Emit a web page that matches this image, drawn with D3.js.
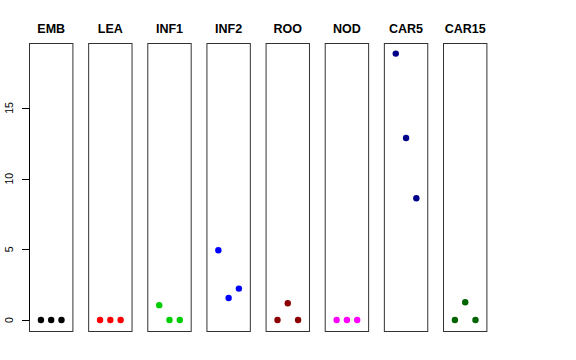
<!DOCTYPE html>
<html>
<head>
<meta charset="utf-8">
<script src="https://cdn.jsdelivr.net/npm/d3@7"></script>
<style>
  body { margin: 0; background: #fff; }
  text { font-family: "Liberation Sans", Arial, sans-serif; }
</style>
</head>
<body>
<div id="chart"></div>
<script>
// tissues, one panel each
let tissues = ["EMB", "LEA", "INF1", "INF2", "ROO", "NOD", "CAR5", "CAR15"];
let colours = ["#000000", "#ff0000", "#00cd00", "#0000ff", "#8b0000", "#ff00ff", "#00008b", "#006400"];
// three replicate values per tissue
let rep1 = [0, 0, 1.05, 4.93, 0, 0, 18.85, 0];
let rep2 = [0, 0, 0, 1.56, 1.18, 0, 12.88, 1.25];
let rep3 = [0, 0, 0, 2.22, 0, 0, 8.61, 0];
let yTicks = [0, 5, 10, 15];

let width = 576, height = 360;
let panelW = 44.4;

let svg = d3.select("#chart").append("svg")
  .attr("width", width)
  .attr("height", height);

// left edge of each panel
let panel = d3.scaleLinear().domain([0, tissues.length - 1]).range([29, 443]);
// values, shared by every panel
let y = d3.scaleLinear().domain([-0.78, 19.6]).range([331, 43]);
// replicate position inside a panel
let x = d3.scaleLinear().domain([-0.16, 4.16]).range([0, panelW]);

tissues.forEach(function (name, i) {
  let g = svg.append("g").attr("transform", "translate(" + panel(i) + ",0)");

  g.append("rect")
    .attr("x", 0.5)
    .attr("y", 43.5)
    .attr("width", panelW - 1)
    .attr("height", 331 - 43)
    .attr("fill", "none")
    .attr("stroke", "#333")
    .attr("stroke-width", 1);

  g.append("text")
    .attr("x", panelW / 2)
    .attr("y", 33)
    .attr("text-anchor", "middle")
    .attr("font-size", 12.5)
    .attr("font-weight", "bold")
    .text(name);

  let vals = [rep1[i], rep2[i], rep3[i]];
  g.selectAll("circle").data(vals).enter().append("circle")
    .attr("cx", function (d, j) { return x(j + 1); })
    .attr("cy", function (d) { return y(d); })
    .attr("r", 3.2)
    .attr("fill", colours[i]);
});

// y axis on the first panel, R style
let axis = svg.append("g").attr("transform", "translate(" + (panel(0) + 0.5) + ",0)");
axis.append("line")
  .attr("x1", 0).attr("x2", 0)
  .attr("y1", y(0)).attr("y2", y(15))
  .attr("stroke", "#000");
axis.selectAll(".tick").data(yTicks).enter().append("line")
  .attr("x1", -7.5).attr("x2", 0)
  .attr("y1", function (d) { return Math.round(y(d)) + 0.5; })
  .attr("y2", function (d) { return Math.round(y(d)) + 0.5; })
  .attr("stroke", "#000");
axis.selectAll(".lab").data(yTicks).enter().append("text")
  .attr("transform", function (d) { return "translate(-17," + y(d) + ") rotate(-90)"; })
  .attr("text-anchor", "middle")
  .attr("font-size", 10.5)
  .text(function (d) { return d; });
</script>
</body>
</html>
